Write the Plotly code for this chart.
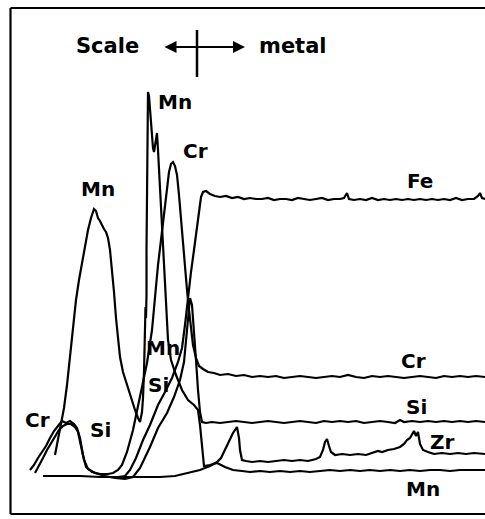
import plotly.graph_objects as go

# Line-scan across scale/metal interface. x = distance (arb. units), y = X-ray intensity (arb. units)
fe_x = [110,118,125,130,136,143,150,158,165,172,178,182,185,187,189,191,194,197,199,201,203,206,210,215,220,226,232,238,244,250,256,262,268,274,280,286,292,298,304,310,316,322,328,334,340,344,347,349,354,360,366,372,378,384,390,396,402,408,414,420,426,432,438,444,450,456,462,468,474,478,480,482,485]
fe_y = [42,42,43,49,61,79,94,114,127,141,157,171,194,214,231,247,269,291,309,322,327,328,325,323,322,323,321,322,320,321,320,320,321,319,320,320,319,321,320,319,320,321,319,320,320,321,326,320,319,320,319,321,319,320,319,320,319,320,319,320,319,320,319,320,319,321,319,320,320,323,326,321,320]

cr_x = [30,34,38,42,46,50,54,58,62,66,70,74,77,80,83,86,92,100,108,113,118,122,127,133,140,147,152,155,158,161,164,167,169,171,173,175,177,179,181,183,185,187,189,191,193,196,199,203,208,214,220,228,236,244,252,260,268,276,284,292,300,308,316,324,332,340,348,356,364,372,380,388,396,404,412,420,428,436,444,452,460,468,476,485]
cr_y = [49,54,61,67,73,81,88,93,98,96,98,95,91,81,64,52,47,45,45,46,49,54,67,89,122,156,189,224,254,279,307,334,347,355,357,353,344,324,299,274,251,229,209,189,174,161,153,150,147,146,144,145,143,144,142,143,142,143,141,142,143,142,141,142,143,142,144,142,141,143,142,143,142,141,142,143,142,141,143,142,143,142,143,142]

si_x = [35,39,43,47,51,55,59,63,67,71,75,78,81,84,88,95,105,115,125,133,140,150,158,167,174,180,184,186,188,190,192,194,196,198,200,202,206,212,220,228,236,244,252,260,268,276,284,292,300,308,316,324,332,340,348,356,364,372,380,388,395,400,404,412,420,428,436,444,452,460,468,476,485]
si_y = [46,53,61,69,76,83,89,93,95,95,92,87,74,59,50,46,43,41,40,42,51,72,91,106,122,139,157,179,204,221,214,189,159,129,107,97,96,97,96,97,98,97,96,97,98,97,96,97,98,97,96,98,97,98,97,98,96,97,98,97,96,99,97,98,97,98,97,98,97,98,97,98,97]

mn_x = [55,58,61,64,67,70,73,76,79,82,85,88,91,94,96,98,100,102,104,106,108,110,112,114,116,118,120,123,127,131,135,138,140,142,143,144,145,145.5,146,146.5,146.5,147,147,147.5,148,149,150,151,152,153,154,155,156,157,158,160,162,164,166,168,171,176,182,188,194,198,200,202,204,210,217,225,233,242,250,260,270,280,290,300,310,320,330,340,350,360,370,380,390,400,410,420,430,440,450,460,470,485]
mn_y = [64,79,94,111,134,164,194,219,239,257,274,289,301,310,308,301,298,293,290,287,281,269,251,227,201,179,162,147,134,121,109,101,97,107,121,147,179,212,201,224,269,319,369,404,427,423,409,394,381,371,367,374,381,386,369,329,289,249,209,179,159,144,129,119,114,109,94,74,53,54,56,52,49,48,47,48,47,48,47,48,47,48,49,48,49,48,49,48,49,48,49,48,49,49,48,49,49,49]

zr_x = [43,60,80,100,120,140,160,175,190,200,210,217,221,225,229,233,237,239,240,242,246,252,260,268,276,284,292,300,308,316,320,323,325,327,329,331,335,342,350,358,366,372,378,382,388,394,400,404,407,410,412,414,416,418,420,423,428,434,442,450,458,466,474,485]
zr_y = [43,43,43,42,42,42,42,43,47,49,53,57,61,69,78,86,92,81,69,59,58,57,58,57,58,59,58,59,58,60,62,69,77,80,73,67,64,65,64,65,64,66,68,67,69,70,72,75,79,81,85,88,83,87,75,69,67,65,66,65,66,65,66,65]

labels = ["Scale", "metal", "Mn", "Cr", "Fe", "Mn", "Mn", "Si", "Cr", "Si", "Zr", "Mn", "Cr", "Si"]
label_x = [107, 293, 175, 195, 420, 98, 163, 158, 413, 416, 442, 423, 37, 100]
label_y = [473, 473, 417, 368, 338, 330, 171, 134, 158, 112, 77, 30, 99, 89]
label_size = [21, 21, 20, 20, 20, 20, 20, 20, 20, 20, 20, 20, 20, 20]

fig = go.Figure()
line = dict(color="black", width=2.2)
for nm, xs, ys in [("Fe", fe_x, fe_y), ("Cr", cr_x, cr_y), ("Si", si_x, si_y),
                   ("Mn", mn_x, mn_y), ("Zr", zr_x, zr_y)]:
    fig.add_trace(go.Scatter(x=xs, y=ys, mode="lines", name=nm, line=line,
                             hoverinfo="skip", showlegend=False))

font_family = "DejaVu Sans"
for t, x, y, s in zip(labels, label_x, label_y, label_size):
    fig.add_annotation(x=x, y=y, text=t, showarrow=False, xanchor="center", yanchor="middle",
                       font=dict(family=font_family, size=s, color="black", weight="bold"))

# double-headed arrow with interface marker
fig.add_annotation(x=245, y=472, ax=163, ay=472, xref="x", yref="y", axref="x", ayref="y",
                   text="", showarrow=True, arrowside="end+start", arrowhead=2,
                   arrowsize=1.2, arrowwidth=2, arrowcolor="black")
fig.add_shape(type="line", x0=197, x1=197, y0=442, y1=489, line=dict(color="black", width=2.5))

# frame (left, top, bottom; right edge lies outside the picture)
frame = dict(color="black", width=2.2)
fig.add_shape(type="line", x0=10.5, x1=10.5, y0=5, y1=511, line=frame)
fig.add_shape(type="line", x0=10.5, x1=485, y0=511, y1=511, line=frame)
fig.add_shape(type="line", x0=10.5, x1=485, y0=5, y1=5, line=frame)

fig.update_layout(
    width=485, height=519,
    margin=dict(l=0, r=0, t=0, b=0),
    paper_bgcolor="white", plot_bgcolor="white",
    xaxis=dict(range=[0, 485], visible=False, fixedrange=True),
    yaxis=dict(range=[0, 519], visible=False, fixedrange=True),
)
fig.write_html("out.html")
